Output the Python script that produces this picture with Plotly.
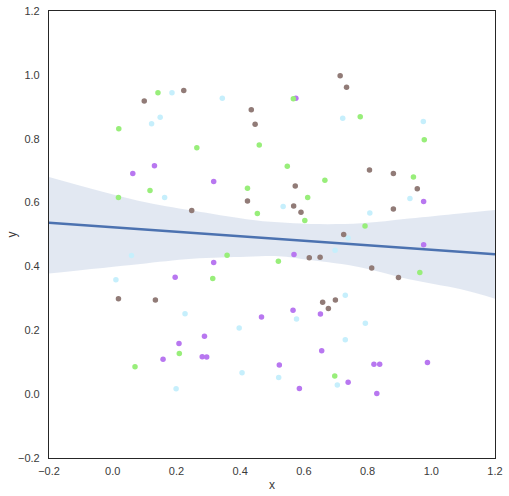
import plotly.graph_objects as go

# ---- data ----
purple_x = [0.131, 0.063, 0.317, 0.575, 0.976, 0.976, 0.569, 0.317, 0.196, 0.566, 0.467, 0.652,
            0.288, 0.208, 0.158, 0.281, 0.295, 0.656, 0.523, 0.820, 0.838, 0.988, 0.739, 0.586, 0.829]
purple_y = [0.715, 0.691, 0.666, 0.927, 0.603, 0.468, 0.437, 0.412, 0.366, 0.263, 0.242, 0.251,
            0.181, 0.159, 0.109, 0.117, 0.116, 0.136, 0.091, 0.094, 0.094, 0.099, 0.037, 0.018, 0.002]

cyan_x = [0.186, 0.344, 0.149, 0.122, 0.163, 0.059, 0.722, 0.975, 0.933, 0.535, 0.807, 0.739,
          0.698, 0.010, 0.227, 0.397, 0.406, 0.199, 0.730, 0.577, 0.793, 0.730, 0.521, 0.705]
cyan_y = [0.944, 0.927, 0.867, 0.847, 0.616, 0.434, 0.864, 0.854, 0.613, 0.588, 0.567, 0.489,
          0.451, 0.358, 0.252, 0.207, 0.067, 0.017, 0.310, 0.235, 0.222, 0.170, 0.052, 0.029]

green_x = [0.142, 0.019, 0.264, 0.460, 0.117, 0.018, 0.423, 0.454, 0.359, 0.567, 0.777, 0.978,
           0.548, 0.666, 0.944, 0.612, 0.603, 0.792, 0.520, 0.964, 0.314, 0.209, 0.070, 0.697]
green_y = [0.944, 0.831, 0.772, 0.780, 0.638, 0.616, 0.645, 0.566, 0.435, 0.925, 0.869, 0.797,
           0.714, 0.670, 0.680, 0.616, 0.544, 0.527, 0.416, 0.381, 0.362, 0.127, 0.086, 0.057]

brown_x = [0.223, 0.099, 0.435, 0.447, 0.423, 0.248, 0.714, 0.734, 0.806, 0.881, 0.573, 0.956,
           0.568, 0.591, 0.881, 0.725, 0.617, 0.651, 0.813, 0.897, 0.659, 0.699, 0.677, 0.018, 0.134]
brown_y = [0.951, 0.918, 0.891, 0.845, 0.605, 0.575, 0.997, 0.961, 0.702, 0.691, 0.652, 0.643,
           0.589, 0.570, 0.580, 0.500, 0.427, 0.429, 0.395, 0.365, 0.288, 0.295, 0.268, 0.299, 0.295]

fit_x = [-0.2, 1.2]
fit_y = [0.537, 0.438]

band_x = [-0.2, 0.08, 0.25, 0.42, 0.52, 0.62, 0.78, 0.93, 1.09, 1.2]
band_upper = [0.680, 0.606, 0.575, 0.548, 0.538, 0.533, 0.535, 0.550, 0.566, 0.577]
band_lower = [0.378, 0.407, 0.424, 0.430, 0.432, 0.420, 0.397, 0.360, 0.329, 0.299]

x_ticks = [-0.2, 0.0, 0.2, 0.4, 0.6, 0.8, 1.0, 1.2]
y_ticks = [-0.2, 0.0, 0.2, 0.4, 0.6, 0.8, 1.0, 1.2]

groups = [
    (purple_x, purple_y, "#b877f0"),
    (cyan_x, cyan_y, "#c6effc"),
    (green_x, green_y, "#98ee7a"),
    (brown_x, brown_y, "#917b77"),
]

fig = go.Figure()

# confidence band
fig.add_trace(go.Scatter(x=band_x, y=band_lower, mode="lines", line=dict(width=0, shape="spline"),
                         hoverinfo="skip", showlegend=False))
fig.add_trace(go.Scatter(x=band_x, y=band_upper, mode="lines", line=dict(width=0, shape="spline"),
                         fill="tonexty", fillcolor="rgba(76,114,176,0.16)",
                         hoverinfo="skip", showlegend=False))

for gx, gy, col in groups:
    fig.add_trace(go.Scatter(x=gx, y=gy, mode="markers",
                             marker=dict(size=5.5, color=col, line=dict(width=0)),
                             showlegend=False))

fig.add_trace(go.Scatter(x=fit_x, y=fit_y, mode="lines",
                         line=dict(color="#4c72b0", width=2.5), showlegend=False))

axis_common = dict(
    showgrid=False, zeroline=False, showline=True, linecolor="#262626", linewidth=1.25,
    mirror=True, ticks="", automargin=False,
    tickfont=dict(family="Liberation Sans, Arial", size=11, color="#3a3a3a"),
    title_font=dict(family="Liberation Sans, Arial", size=12, color="#3a3a3a"),
)

fig.update_layout(
    width=509, height=496,
    margin=dict(l=49, r=14, t=11, b=38),
    paper_bgcolor="white", plot_bgcolor="white",
    xaxis=dict(range=[-0.2, 1.2], tickvals=x_ticks, ticktext=[f"{v:.1f}".replace("-", "\u2212") for v in x_ticks],
               ticklabelstandoff=3, title=dict(text="x", standoff=4), **axis_common),
    yaxis=dict(range=[-0.2, 1.2], tickvals=y_ticks, ticktext=[f"{v:.1f}".replace("-", "\u2212") for v in y_ticks],
               ticklabelstandoff=6, **axis_common),
    annotations=[dict(text="y", xref="paper", yref="paper", x=-0.083, y=0.5, textangle=-90,
                      showarrow=False, xanchor="center", yanchor="middle",
                      font=dict(family="Liberation Sans, Arial", size=12, color="#3a3a3a"))],
)

fig.write_html("out.html", config={"displayModeBar": False},
               post_script="document.body.style.margin='0';")
